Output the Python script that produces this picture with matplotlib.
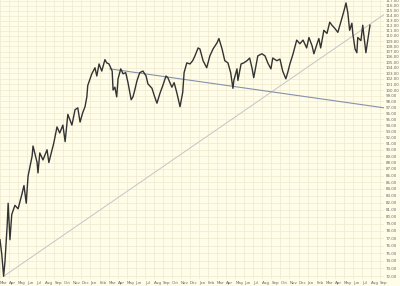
import matplotlib
matplotlib.use('Agg')
import matplotlib.pyplot as plt
from matplotlib.ticker import FixedLocator, FixedFormatter, NullLocator

# x: months since start (0 = Mar of first year), y: price
price_month = [0.0, 0.2, 0.4, 0.55, 0.8, 0.9, 1.1, 1.3, 1.65, 2.0, 2.4, 2.65, 2.9, 3.1,
               3.55, 3.65, 4.1, 4.2, 4.4, 4.75, 5.2, 5.4, 5.75, 5.95, 6.3, 6.6, 6.95, 7.2,
               7.5, 7.95, 8.3, 8.6, 8.85, 9.15, 9.4, 9.6, 9.7, 10.15, 10.5, 10.7, 10.95,
               11.25, 11.6, 11.8, 12.05, 12.4, 12.5, 12.7, 12.9, 13.05, 13.35, 13.6, 13.9,
               14.15, 14.5, 14.7, 14.9, 15.15, 15.45, 15.8, 16.15, 16.35, 16.8, 17.1, 17.35,
               17.7, 18.0, 18.35, 18.55, 19.0, 19.25, 19.55, 19.9, 20.2, 20.35, 20.65, 21.0,
               21.3, 21.55, 21.9, 22.1, 22.45, 22.85, 23.2, 23.55, 24.0, 24.2, 24.55, 24.85,
               25.2, 25.5, 25.75, 25.85, 26.2, 26.3, 26.65, 26.95, 27.3, 27.6, 27.85, 28.05,
               28.3, 28.5, 28.95, 29.3, 29.6, 29.95, 30.15, 30.6, 30.95, 31.25, 31.6, 31.8,
               32.05, 32.4, 32.8, 33.15, 33.5, 33.9, 34.15, 34.5, 34.7, 35.05, 35.25, 35.45,
               35.8, 36.15, 36.45, 36.7, 37.0, 37.35, 37.8, 38.0, 38.25, 38.45, 38.65, 38.9,
               39.0, 39.25, 39.45, 39.55, 39.9, 40.1, 40.2, 40.45, 40.65, 40.9]
price_value = [76.8, 74.8, 72.0, 73.9, 78.9, 81.9, 76.8, 80.3, 81.6, 81.1, 83.1, 84.5, 81.9, 85.9,
               89.0, 90.6, 88.0, 86.4, 89.5, 88.4, 90.0, 88.0, 90.0, 91.1, 93.7, 92.7, 94.0, 91.3,
               95.8, 94.0, 96.6, 96.9, 94.5, 96.1, 97.1, 98.8, 100.8, 102.9, 104.0, 102.5, 104.7,
               103.4, 105.5, 104.9, 104.7, 103.4, 100.0, 100.5, 98.8, 102.0, 103.8, 102.9, 103.1,
               101.3, 98.3, 98.8, 100.0, 101.7, 103.1, 103.4, 102.5, 101.1, 100.3, 98.8, 97.7,
               99.5, 100.8, 102.5, 102.2, 100.5, 101.3, 99.5, 97.1, 99.6, 103.1, 104.9, 104.7,
               105.3, 106.2, 107.7, 107.5, 105.3, 104.0, 106.2, 107.5, 108.7, 109.5, 107.5, 105.3,
               104.9, 103.1, 100.3, 101.7, 103.8, 101.7, 104.7, 104.9, 105.3, 105.8, 104.0, 102.2,
               104.4, 106.2, 106.6, 106.2, 104.9, 103.8, 105.8, 105.3, 105.6, 103.4, 102.0, 103.1,
               104.7, 106.6, 109.2, 108.5, 109.2, 107.7, 109.7, 108.1, 106.6, 108.5, 109.5, 107.7,
               111.1, 110.5, 112.7, 112.1, 111.5, 110.7, 113.5, 114.8, 116.6, 114.6, 111.1, 112.5,
               110.5, 107.5, 106.8, 109.7, 109.1, 112.1, 110.5, 106.8, 109.1, 112.1]

up_line_month = [0.4, 42.5]
up_line_value = [72.0, 114.3]
down_line_month = [12.15, 42.5]
down_line_value = [103.8, 96.9]

month_labels = (['Mar', 'Apr', 'May', 'Jun', 'Jul', 'Aug', 'Sep', 'Oct', 'Nov', 'Dec'] +
                ['Jan', 'Feb', 'Mar', 'Apr', 'May', 'Jun', 'Jul', 'Aug', 'Sep', 'Oct', 'Nov', 'Dec'] * 2 +
                ['Jan', 'Feb', 'Mar', 'Apr', 'May', 'Jun', 'Jul', 'Aug', 'Sep'])
y_ticks = list(range(72, 118))

bg = '#FFFDE8'
grid_c = '#EEE9D0'

fig = plt.figure(figsize=(4.0, 2.86), dpi=100)
fig.patch.set_facecolor(bg)
ax = fig.add_axes([0.0, 0.0245, 0.96, 0.9755])
ax.set_facecolor(bg)
ax.set_yscale('log')
ax.set_xlim(0, 42.45)
ax.set_ylim(71.66, 117.2)

ax.yaxis.set_major_locator(FixedLocator(y_ticks))
ax.yaxis.set_major_formatter(FixedFormatter(['%.2f' % v for v in y_ticks]))
ax.yaxis.set_minor_locator(NullLocator())
ax.xaxis.set_major_locator(FixedLocator(list(range(len(month_labels)))))
ax.xaxis.set_major_formatter(FixedFormatter(month_labels))

ax.yaxis.tick_right()
ax.tick_params(axis='y', length=0, pad=1.2, labelsize=2.9, labelcolor='#666666')
ax.tick_params(axis='x', length=0, pad=1.2, labelsize=2.9, labelcolor='#666666')
for lab in ax.get_xticklabels():
    lab.set_ha('left')

ax.grid(True, which='major', color=grid_c, linewidth=0.5)
ax.set_axisbelow(True)
for s in ax.spines.values():
    s.set_visible(False)

ax.plot(up_line_month, up_line_value, color='#C4C4C8', linewidth=0.7, zorder=2)
ax.plot(down_line_month, down_line_value, color='#8591AC', linewidth=0.8, zorder=2)
ax.plot(price_month, price_value, color='#333333', linewidth=1.0, zorder=3)

fig.savefig('out.png', dpi=100, facecolor=bg)
